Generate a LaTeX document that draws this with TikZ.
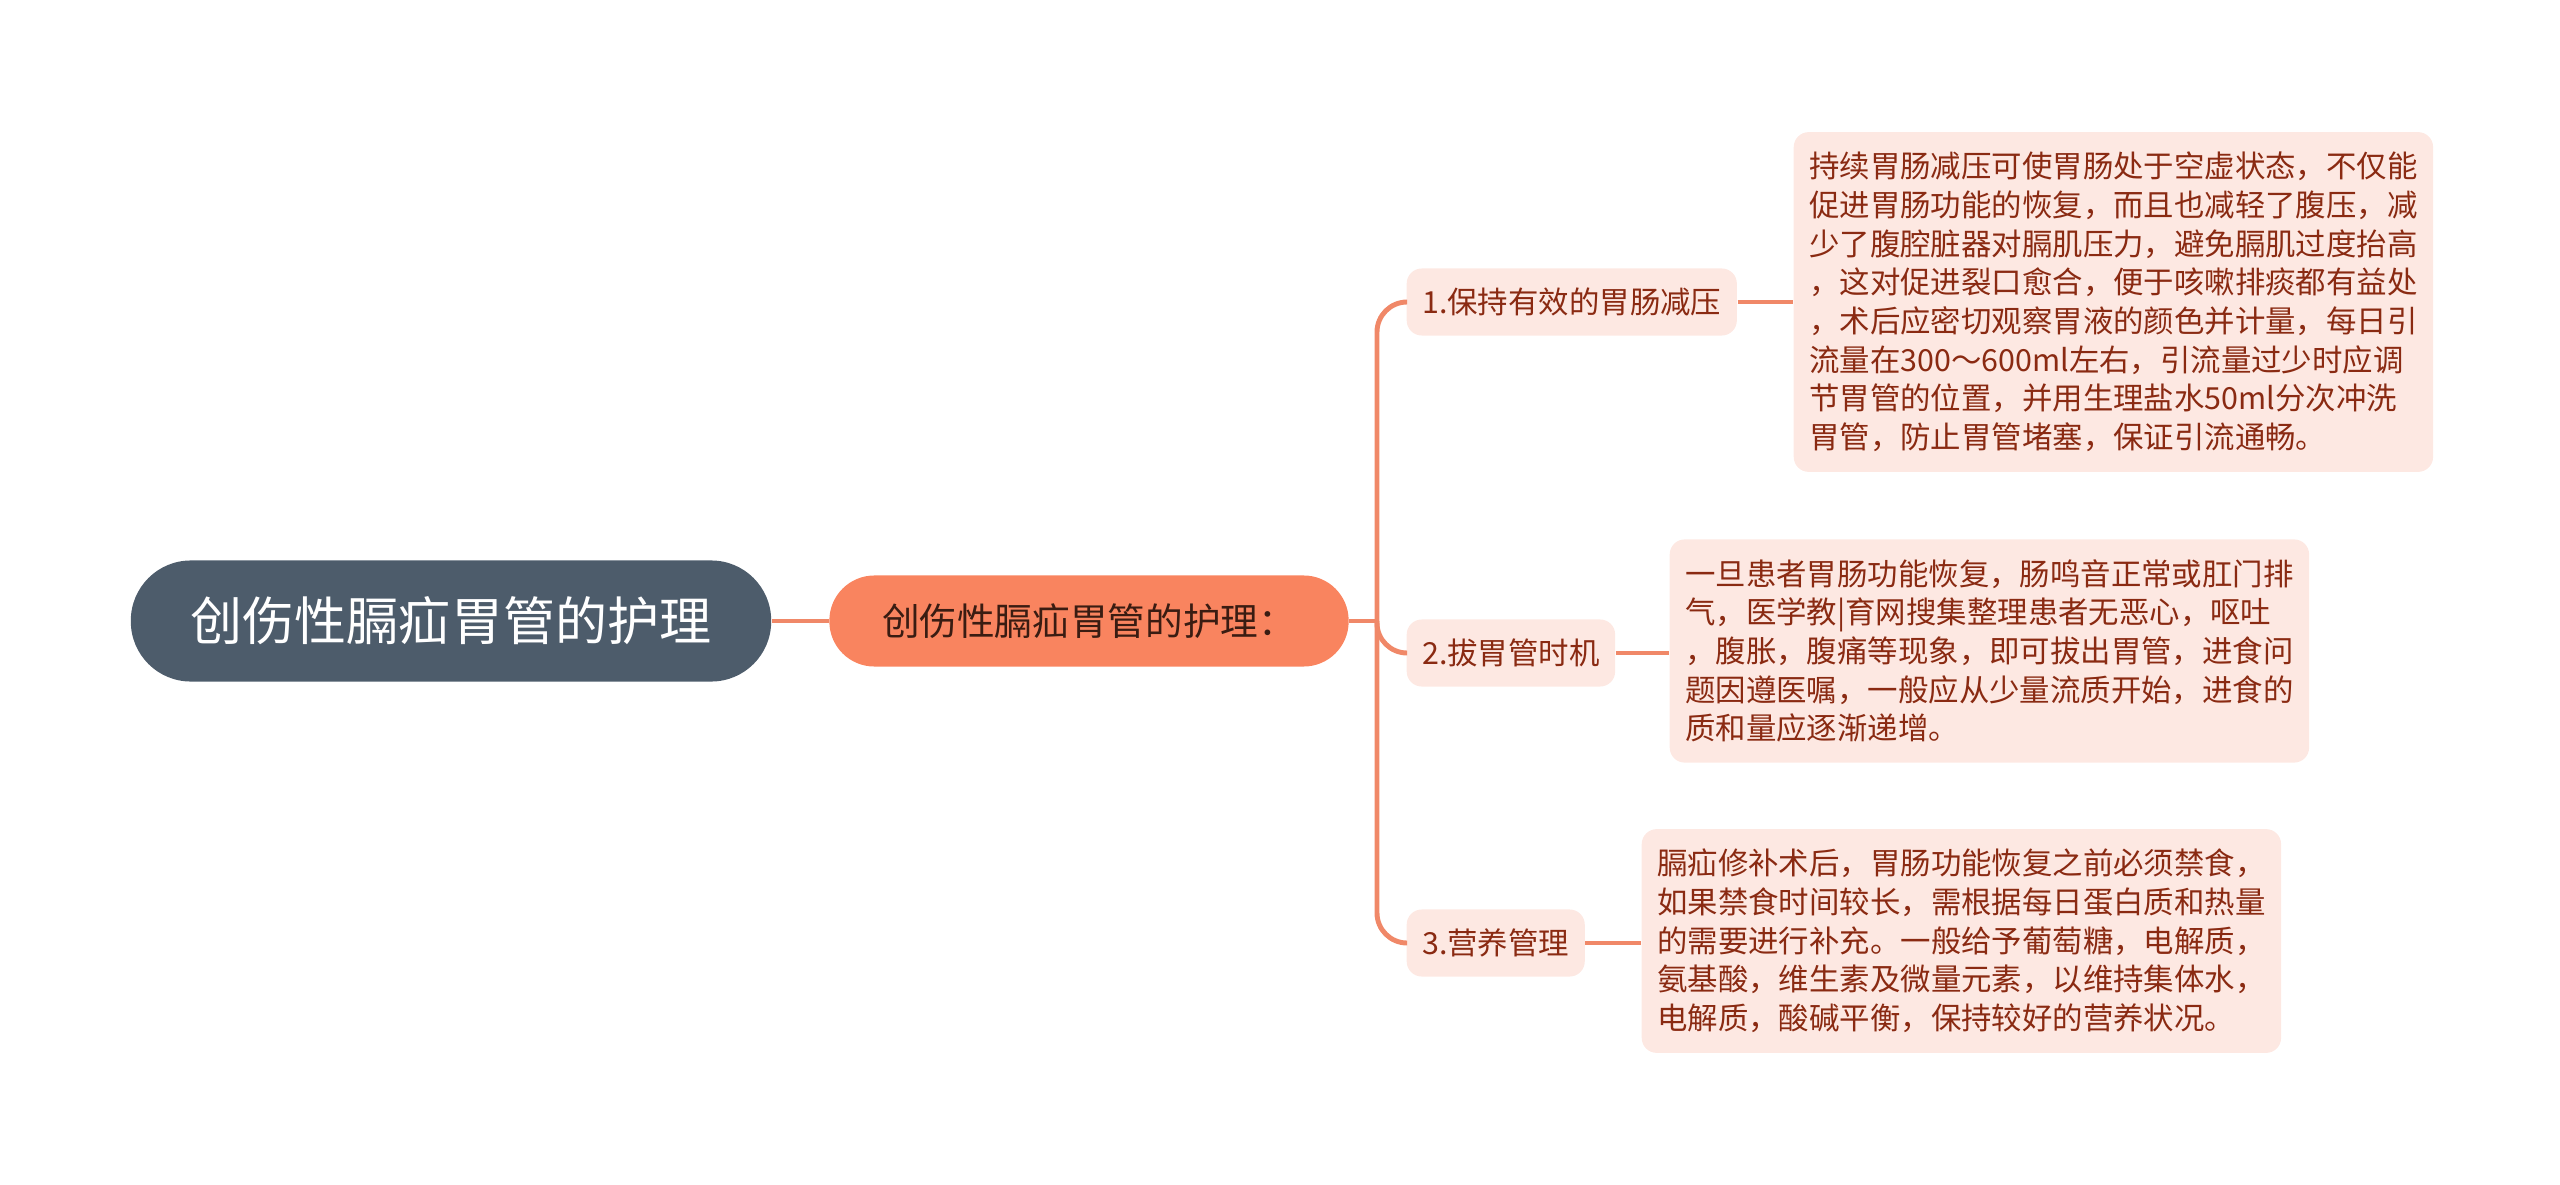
\documentclass[tikz,border=0pt]{standalone}
\usepackage{fontspec}
\usepackage{tikz}
\usepackage{xcolor}
\newfontfamily\cjk{Noto Sans CJK SC}
\usetikzlibrary{positioning}
\definecolor{rootfill}{HTML}{4D5C6B}
\definecolor{mainfill}{HTML}{F9845F}
\definecolor{maintext}{HTML}{3A1C12}
\definecolor{leaffill}{HTML}{FDE8E2}
\definecolor{leaftext}{HTML}{8A2A12}
\definecolor{linecol}{HTML}{F08868}

\begin{document}
\begin{tikzpicture}[x=0.01cm,y=-0.01cm]
\tikzstyle{every node}+=[inner sep=0pt]
\tikzstyle{link}=[draw=linecol, line width=1.4pt]
\tikzstyle{leaf}=[fill=leaffill, text=leaftext, rounded corners=0.15cm, align=left, anchor=west, inner xsep=0.155cm, inner ysep=0.2cm, font=\cjk\fontsize{8.65pt}{11pt}\selectfont]
\tikzstyle{branch}=[leaf, inner ysep=0pt, minimum height=0.67cm]
\useasboundingbox (0,0) rectangle (2560,1185);
\node [fill=rootfill, text=white, rounded corners=0.6cm, minimum width=6.4cm, minimum height=1.21cm, font=\cjk\fontsize{14.8pt}{16pt}\selectfont] (root) at (451,621) {创伤性膈疝胃管的护理};
\node [fill=mainfill, text=maintext, rounded corners=0.45cm, minimum width=5.19cm, minimum height=0.91cm, font=\cjk\fontsize{10.7pt}{12pt}\selectfont] (main) at (1089,621) {创伤性膈疝胃管的护理：};
\coordinate (fork) at (1377,621);
\node [branch] (keep) at (1406,302) {1.保持有效的胃肠减压};
\node [branch] (pull) at (1406,653) {2.拔胃管时机};
\node [branch] (feed) at (1406,943) {3.营养管理};
\node [leaf] (keepnote) at (1793,302) {持续胃肠减压可使胃肠处于空虚状态，不仅能\\促进胃肠功能的恢复，而且也减轻了腹压，减\\少了腹腔脏器对膈肌压力，避免膈肌过度抬高\\，这对促进裂口愈合，便于咳嗽排痰都有益处\\，术后应密切观察胃液的颜色并计量，每日引\\流量在300～600ml左右，引流量过少时应调\\节胃管的位置，并用生理盐水50ml分次冲洗\\胃管，防止胃管堵塞，保证引流通畅。};
\node [leaf] (pullnote) at (1669,651) {一旦患者胃肠功能恢复，肠鸣音正常或肛门排\\气，医学教|育网搜集整理患者无恶心，呕吐\\，腹胀，腹痛等现象，即可拔出胃管，进食问\\题因遵医嘱，一般应从少量流质开始，进食的\\质和量应逐渐递增。};
\node [leaf] (feednote) at (1641,941) {膈疝修补术后，胃肠功能恢复之前必须禁食，\\如果禁食时间较长，需根据每日蛋白质和热量\\的需要进行补充。一般给予葡萄糖，电解质，\\氨基酸，维生素及微量元素，以维持集体水，\\电解质，酸碱平衡，保持较好的营养状况。};
\draw [link] (root.east) -- (main.west);
\draw [link] (main.east) -- (fork);
\draw [link, rounded corners=0.3cm] (fork) |- (keep.west);
\draw [link, rounded corners=0.3cm] (fork) |- (pull.west);
\draw [link, rounded corners=0.3cm] (fork) |- (feed.west);
\draw [link] (keep.east) -- (keep.east -| keepnote.west);
\draw [link] (pull.east) -- (pull.east -| pullnote.west);
\draw [link] (feed.east) -- (feed.east -| feednote.west);
\end{tikzpicture}
\end{document}
